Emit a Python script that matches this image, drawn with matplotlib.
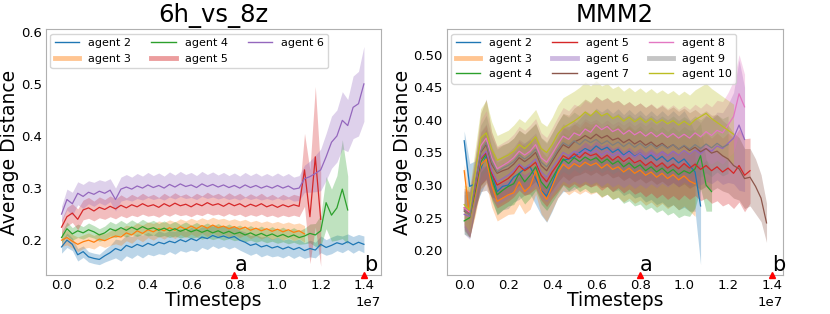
import numpy as np
import matplotlib
matplotlib.use("Agg")
import matplotlib.pyplot as plt
from matplotlib.lines import Line2D

# ---------------- 6h_vs_8z ----------------
t_left = np.arange(57) * 0.025e7

mean_l2 = [0.187, 0.200, 0.192, 0.172, 0.178, 0.168, 0.165, 0.163, 0.170, 0.176,
           0.184, 0.180, 0.190, 0.186, 0.192, 0.188, 0.194, 0.190, 0.196, 0.193,
           0.198, 0.195, 0.201, 0.197, 0.203, 0.199, 0.206, 0.203, 0.209, 0.205,
           0.208, 0.204, 0.207, 0.200, 0.196, 0.190, 0.193, 0.187, 0.190, 0.185,
           0.188, 0.183, 0.187, 0.182, 0.186, 0.180, 0.184, 0.181, 0.192, 0.186,
           0.190, 0.195, 0.192, 0.197, 0.191, 0.196, 0.192]
std_l2 = [0.012, 0.014, 0.012, 0.012, 0.011, 0.010, 0.010, 0.010, 0.012, 0.014,
          0.018, 0.020, 0.020, 0.021, 0.020, 0.022, 0.021, 0.020, 0.022, 0.021,
          0.020, 0.022, 0.021, 0.020, 0.022, 0.021, 0.020, 0.021, 0.020, 0.021,
          0.020, 0.021, 0.020, 0.019, 0.020, 0.019, 0.018, 0.019, 0.018, 0.017,
          0.018, 0.017, 0.016, 0.017, 0.016, 0.015, 0.016, 0.015, 0.016, 0.015,
          0.016, 0.015, 0.016, 0.015, 0.016, 0.015, 0.016]

mean_l3 = [0.200, 0.205, 0.198, 0.192, 0.197, 0.200, 0.196, 0.202, 0.199, 0.204,
           0.208, 0.206, 0.214, 0.210, 0.218, 0.213, 0.220, 0.216, 0.222, 0.218,
           0.224, 0.219, 0.226, 0.221, 0.227, 0.222, 0.228, 0.223, 0.229, 0.224,
           0.227, 0.222, 0.226, 0.221, 0.225, 0.219, 0.223, 0.218, 0.222, 0.217,
           0.221, 0.216, 0.220, 0.215, 0.218, 0.212]
std_l3 = [0.012, 0.014, 0.013, 0.014, 0.013, 0.014, 0.013, 0.012, 0.013, 0.014,
          0.015, 0.016, 0.015, 0.016, 0.015, 0.016, 0.015, 0.016, 0.015, 0.016,
          0.015, 0.016, 0.015, 0.016, 0.015, 0.016, 0.015, 0.016, 0.015, 0.016,
          0.015, 0.016, 0.015, 0.016, 0.015, 0.016, 0.015, 0.016, 0.015, 0.016,
          0.015, 0.016, 0.015, 0.016, 0.015, 0.016]

mean_l4 = [0.205, 0.222, 0.212, 0.218, 0.214, 0.220, 0.216, 0.210, 0.214, 0.222,
           0.218, 0.224, 0.219, 0.225, 0.220, 0.226, 0.221, 0.224, 0.219, 0.223,
           0.218, 0.222, 0.217, 0.221, 0.216, 0.220, 0.215, 0.219, 0.214, 0.218,
           0.213, 0.217, 0.212, 0.215, 0.210, 0.214, 0.209, 0.213, 0.208, 0.212,
           0.207, 0.211, 0.206, 0.210, 0.205, 0.208, 0.213, 0.210, 0.218, 0.272,
           0.248, 0.262, 0.298, 0.258]
std_l4 = [0.010, 0.013, 0.012, 0.013, 0.012, 0.013, 0.012, 0.012, 0.013, 0.014,
          0.013, 0.014, 0.013, 0.014, 0.013, 0.014, 0.013, 0.014, 0.013, 0.014,
          0.013, 0.014, 0.013, 0.014, 0.013, 0.014, 0.013, 0.014, 0.013, 0.014,
          0.013, 0.014, 0.013, 0.014, 0.013, 0.014, 0.013, 0.014, 0.013, 0.014,
          0.013, 0.014, 0.013, 0.014, 0.013, 0.015, 0.018, 0.022, 0.030, 0.050,
          0.050, 0.062, 0.095, 0.065]

mean_l5 = [0.225, 0.245, 0.252, 0.240, 0.258, 0.262, 0.256, 0.263, 0.259, 0.265,
           0.260, 0.267, 0.262, 0.268, 0.264, 0.270, 0.265, 0.268, 0.263, 0.270,
           0.265, 0.271, 0.266, 0.269, 0.264, 0.270, 0.266, 0.272, 0.267, 0.270,
           0.265, 0.271, 0.266, 0.270, 0.264, 0.269, 0.265, 0.270, 0.264, 0.268,
           0.263, 0.268, 0.264, 0.268, 0.265, 0.335, 0.245, 0.360, 0.240]
std_l5 = [0.014, 0.018, 0.018, 0.020, 0.019, 0.020, 0.019, 0.020, 0.019, 0.020,
          0.019, 0.020, 0.019, 0.020, 0.019, 0.020, 0.019, 0.020, 0.019, 0.020,
          0.019, 0.020, 0.019, 0.020, 0.019, 0.020, 0.019, 0.020, 0.019, 0.020,
          0.019, 0.020, 0.019, 0.020, 0.019, 0.020, 0.019, 0.020, 0.019, 0.020,
          0.019, 0.020, 0.019, 0.020, 0.020, 0.070, 0.090, 0.135, 0.090]

mean_l6 = [0.250, 0.278, 0.270, 0.290, 0.284, 0.292, 0.288, 0.294, 0.290, 0.296,
           0.278, 0.298, 0.302, 0.298, 0.304, 0.300, 0.306, 0.301, 0.305, 0.300,
           0.307, 0.302, 0.308, 0.303, 0.306, 0.301, 0.308, 0.303, 0.307, 0.302,
           0.306, 0.301, 0.305, 0.300, 0.306, 0.301, 0.305, 0.300, 0.304, 0.300,
           0.305, 0.300, 0.304, 0.298, 0.300, 0.318, 0.322, 0.328, 0.335, 0.360,
           0.388, 0.400, 0.430, 0.420, 0.455, 0.462, 0.500]
std_l6 = [0.015, 0.020, 0.022, 0.022, 0.023, 0.022, 0.023, 0.022, 0.023, 0.022,
          0.022, 0.023, 0.024, 0.023, 0.024, 0.023, 0.024, 0.023, 0.024, 0.023,
          0.024, 0.023, 0.024, 0.023, 0.024, 0.023, 0.024, 0.023, 0.024, 0.023,
          0.024, 0.023, 0.024, 0.023, 0.024, 0.023, 0.024, 0.023, 0.024, 0.023,
          0.024, 0.023, 0.024, 0.023, 0.024, 0.026, 0.030, 0.035, 0.040, 0.045,
          0.050, 0.050, 0.055, 0.050, 0.060, 0.062, 0.072]

# ---------------- MMM2 ----------------
t_right = np.arange(57) * 0.025e7

mean_r2 = [0.368, 0.298, 0.302, 0.325, 0.345, 0.318, 0.290, 0.298, 0.300, 0.312,
           0.318, 0.325, 0.328, 0.310, 0.292, 0.283, 0.302, 0.325, 0.338, 0.340,
           0.343, 0.350, 0.356, 0.352, 0.360, 0.354, 0.358, 0.350, 0.355, 0.346,
           0.352, 0.344, 0.349, 0.340, 0.346, 0.338, 0.344, 0.336, 0.342, 0.334,
           0.340, 0.330, 0.320, 0.268]
std_r2 = [0.015, 0.035, 0.035, 0.038, 0.040, 0.038, 0.036, 0.036, 0.036, 0.038,
          0.040, 0.040, 0.042, 0.040, 0.038, 0.040, 0.042, 0.045, 0.048, 0.050,
          0.050, 0.052, 0.055, 0.055, 0.058, 0.058, 0.060, 0.060, 0.062, 0.062,
          0.064, 0.064, 0.066, 0.066, 0.068, 0.068, 0.070, 0.070, 0.072, 0.072,
          0.074, 0.070, 0.060, 0.090]

mean_r3 = [0.322, 0.250, 0.285, 0.330, 0.340, 0.300, 0.275, 0.280, 0.285, 0.288,
           0.305, 0.290, 0.298, 0.322, 0.290, 0.278, 0.298, 0.318, 0.332, 0.325,
           0.333, 0.328, 0.335, 0.330, 0.334, 0.326, 0.332, 0.324, 0.328, 0.320,
           0.326, 0.318, 0.323, 0.315, 0.320, 0.312, 0.318, 0.310, 0.316, 0.308,
           0.314, 0.306, 0.302]
std_r3 = [0.010, 0.030, 0.032, 0.036, 0.038, 0.034, 0.030, 0.030, 0.030, 0.032,
          0.034, 0.034, 0.035, 0.036, 0.034, 0.034, 0.036, 0.038, 0.040, 0.040,
          0.042, 0.042, 0.044, 0.044, 0.045, 0.045, 0.046, 0.046, 0.046, 0.046,
          0.046, 0.046, 0.046, 0.046, 0.046, 0.046, 0.046, 0.046, 0.046, 0.046,
          0.046, 0.046, 0.050]

mean_r4 = [0.245, 0.250, 0.290, 0.335, 0.348, 0.310, 0.285, 0.292, 0.298, 0.302,
           0.318, 0.305, 0.315, 0.328, 0.305, 0.295, 0.310, 0.325, 0.340, 0.333,
           0.342, 0.336, 0.343, 0.338, 0.342, 0.334, 0.340, 0.332, 0.337, 0.328,
           0.334, 0.326, 0.331, 0.322, 0.328, 0.320, 0.326, 0.318, 0.324, 0.316,
           0.322, 0.318, 0.325, 0.345, 0.300, 0.290]
std_r4 = [0.020, 0.030, 0.032, 0.036, 0.038, 0.034, 0.030, 0.030, 0.030, 0.032,
          0.034, 0.034, 0.035, 0.036, 0.034, 0.034, 0.036, 0.038, 0.040, 0.042,
          0.044, 0.046, 0.048, 0.050, 0.052, 0.052, 0.054, 0.054, 0.056, 0.056,
          0.058, 0.058, 0.060, 0.060, 0.062, 0.062, 0.064, 0.064, 0.066, 0.066,
          0.068, 0.066, 0.060, 0.050, 0.040, 0.030]

mean_r5 = [0.265, 0.255, 0.295, 0.340, 0.350, 0.318, 0.300, 0.305, 0.310, 0.318,
           0.330, 0.322, 0.328, 0.335, 0.315, 0.305, 0.320, 0.332, 0.345, 0.340,
           0.348, 0.342, 0.350, 0.345, 0.348, 0.340, 0.346, 0.338, 0.344, 0.336,
           0.342, 0.334, 0.338, 0.330, 0.336, 0.328, 0.334, 0.326, 0.332, 0.325,
           0.333, 0.326, 0.332, 0.324, 0.330, 0.322, 0.328, 0.320, 0.326, 0.318,
           0.330, 0.315, 0.322]
std_r5 = [0.030, 0.035, 0.036, 0.040, 0.042, 0.038, 0.035, 0.035, 0.035, 0.036,
          0.038, 0.038, 0.040, 0.040, 0.038, 0.038, 0.040, 0.042, 0.044, 0.044,
          0.046, 0.046, 0.048, 0.048, 0.048, 0.048, 0.048, 0.048, 0.048, 0.048,
          0.048, 0.048, 0.048, 0.048, 0.048, 0.048, 0.048, 0.048, 0.048, 0.048,
          0.048, 0.048, 0.048, 0.048, 0.050, 0.050, 0.052, 0.052, 0.054, 0.054,
          0.056, 0.056, 0.050]

mean_r6 = [0.255, 0.252, 0.298, 0.342, 0.352, 0.322, 0.305, 0.310, 0.315, 0.322,
           0.332, 0.326, 0.332, 0.340, 0.320, 0.312, 0.326, 0.338, 0.350, 0.345,
           0.352, 0.347, 0.354, 0.349, 0.353, 0.346, 0.352, 0.345, 0.350, 0.344,
           0.350, 0.343, 0.349, 0.343, 0.350, 0.344, 0.351, 0.345, 0.352, 0.346,
           0.353, 0.347, 0.354, 0.348, 0.356, 0.352, 0.360, 0.356, 0.364, 0.372,
           0.392, 0.370]
std_r6 = [0.030, 0.035, 0.036, 0.040, 0.042, 0.038, 0.035, 0.035, 0.035, 0.036,
          0.038, 0.038, 0.040, 0.040, 0.038, 0.038, 0.040, 0.042, 0.044, 0.044,
          0.046, 0.046, 0.048, 0.048, 0.048, 0.048, 0.048, 0.048, 0.048, 0.048,
          0.048, 0.048, 0.048, 0.048, 0.048, 0.048, 0.048, 0.048, 0.048, 0.048,
          0.048, 0.048, 0.048, 0.048, 0.050, 0.050, 0.052, 0.055, 0.060, 0.070,
          0.100, 0.080]

mean_r7 = [0.260, 0.255, 0.302, 0.350, 0.362, 0.332, 0.318, 0.322, 0.325, 0.332,
           0.342, 0.336, 0.342, 0.350, 0.330, 0.322, 0.336, 0.350, 0.362, 0.357,
           0.366, 0.370, 0.376, 0.371, 0.378, 0.372, 0.376, 0.369, 0.372, 0.365,
           0.370, 0.363, 0.368, 0.361, 0.366, 0.359, 0.364, 0.357, 0.362, 0.355,
           0.360, 0.353, 0.358, 0.351, 0.356, 0.349, 0.352, 0.345, 0.340, 0.330,
           0.325, 0.310, 0.312, 0.298, 0.280, 0.242]
std_r7 = [0.030, 0.035, 0.040, 0.060, 0.070, 0.050, 0.040, 0.040, 0.040, 0.040,
          0.042, 0.042, 0.044, 0.044, 0.042, 0.042, 0.044, 0.046, 0.048, 0.050,
          0.052, 0.054, 0.056, 0.056, 0.058, 0.058, 0.058, 0.058, 0.058, 0.058,
          0.058, 0.058, 0.058, 0.058, 0.058, 0.058, 0.058, 0.058, 0.058, 0.058,
          0.058, 0.058, 0.058, 0.058, 0.058, 0.058, 0.056, 0.054, 0.052, 0.050,
          0.048, 0.046, 0.044, 0.042, 0.036, 0.030]

mean_r8 = [0.265, 0.258, 0.310, 0.360, 0.372, 0.342, 0.325, 0.330, 0.335, 0.342,
           0.352, 0.346, 0.352, 0.362, 0.342, 0.335, 0.348, 0.362, 0.375, 0.370,
           0.380, 0.376, 0.386, 0.381, 0.392, 0.385, 0.390, 0.382, 0.386, 0.378,
           0.384, 0.377, 0.382, 0.375, 0.381, 0.374, 0.380, 0.373, 0.379, 0.372,
           0.378, 0.372, 0.380, 0.374, 0.382, 0.376, 0.384, 0.380, 0.392, 0.405,
           0.440, 0.420]
std_r8 = [0.030, 0.035, 0.036, 0.040, 0.042, 0.038, 0.035, 0.035, 0.035, 0.036,
          0.038, 0.038, 0.040, 0.040, 0.038, 0.038, 0.040, 0.042, 0.044, 0.044,
          0.044, 0.044, 0.044, 0.044, 0.044, 0.044, 0.044, 0.044, 0.044, 0.044,
          0.044, 0.044, 0.044, 0.044, 0.044, 0.044, 0.044, 0.044, 0.044, 0.044,
          0.044, 0.044, 0.044, 0.044, 0.044, 0.044, 0.046, 0.048, 0.050, 0.055,
          0.060, 0.050]

mean_r9 = [0.262, 0.254, 0.305, 0.352, 0.365, 0.336, 0.320, 0.326, 0.330, 0.336,
           0.346, 0.340, 0.346, 0.355, 0.335, 0.328, 0.340, 0.354, 0.365, 0.360,
           0.368, 0.362, 0.370, 0.365, 0.370, 0.363, 0.368, 0.361, 0.366, 0.359,
           0.365, 0.358, 0.364, 0.357, 0.363, 0.356, 0.362, 0.356, 0.362, 0.355,
           0.361, 0.355, 0.362, 0.356, 0.363, 0.357, 0.364, 0.358, 0.362]
std_r9 = [0.030, 0.035, 0.036, 0.040, 0.042, 0.038, 0.035, 0.035, 0.035, 0.036,
          0.038, 0.038, 0.040, 0.040, 0.038, 0.038, 0.040, 0.042, 0.044, 0.044,
          0.044, 0.044, 0.044, 0.044, 0.044, 0.044, 0.044, 0.044, 0.044, 0.044,
          0.044, 0.044, 0.044, 0.044, 0.044, 0.044, 0.044, 0.044, 0.044, 0.044,
          0.044, 0.044, 0.044, 0.044, 0.044, 0.044, 0.044, 0.044, 0.044]

mean_r10 = [0.270, 0.262, 0.318, 0.372, 0.380, 0.355, 0.338, 0.342, 0.346, 0.352,
            0.362, 0.356, 0.364, 0.374, 0.356, 0.350, 0.362, 0.378, 0.388, 0.393,
            0.398, 0.404, 0.412, 0.406, 0.414, 0.406, 0.410, 0.402, 0.406, 0.398,
            0.404, 0.397, 0.403, 0.396, 0.402, 0.395, 0.400, 0.394, 0.399, 0.392,
            0.398, 0.392, 0.400, 0.405, 0.410, 0.402, 0.396, 0.390, 0.384, 0.378]
std_r10 = [0.030, 0.035, 0.038, 0.045, 0.050, 0.042, 0.038, 0.038, 0.038, 0.040,
           0.040, 0.040, 0.042, 0.042, 0.040, 0.040, 0.042, 0.044, 0.046, 0.046,
           0.046, 0.046, 0.046, 0.046, 0.046, 0.046, 0.046, 0.046, 0.046, 0.046,
           0.046, 0.046, 0.046, 0.046, 0.046, 0.046, 0.046, 0.046, 0.046, 0.046,
           0.046, 0.046, 0.046, 0.046, 0.046, 0.046, 0.046, 0.046, 0.046, 0.046]

left_series = [("agent 2", mean_l2, std_l2), ("agent 3", mean_l3, std_l3),
               ("agent 4", mean_l4, std_l4), ("agent 5", mean_l5, std_l5),
               ("agent 6", mean_l6, std_l6)]
right_series = [("agent 2", mean_r2, std_r2), ("agent 3", mean_r3, std_r3),
                ("agent 4", mean_r4, std_r4), ("agent 5", mean_r5, std_r5),
                ("agent 6", mean_r6, std_r6), ("agent 7", mean_r7, std_r7),
                ("agent 8", mean_r8, std_r8), ("agent 9", mean_r9, std_r9),
                ("agent 10", mean_r10, std_r10)]

# legend entries drawn as thick faded bars in the original
thick_left = ["agent 3", "agent 5"]
thick_right = ["agent 3", "agent 6", "agent 9"]

xticks = [0.0, 0.2e7, 0.4e7, 0.6e7, 0.8e7, 1.0e7, 1.2e7, 1.4e7]
marks_x = [0.8e7, 1.4e7]
marks_txt = ["a", "b"]

colors = plt.rcParams["axes.prop_cycle"].by_key()["color"]

fig = plt.figure(figsize=(8.3, 3.14), dpi=100)
ax1 = fig.add_axes([0.0554, 0.124, 0.4036, 0.783])
ax2 = fig.add_axes([0.5386, 0.124, 0.4048, 0.783])


def draw(ax, t, series, thick, title, ylim, xlim):
    handles = []
    for i, (name, m, s) in enumerate(series):
        m = np.array(m)
        s = np.array(s)
        x = t[:len(m)]
        c = colors[i]
        ax.fill_between(x, m - s, m + s, color=c, alpha=0.3, lw=0)
        ax.plot(x, m, color=c, lw=0.9)
        if name in thick:
            handles.append(Line2D([], [], color=c, lw=3.5, alpha=0.45, label=name))
        else:
            handles.append(Line2D([], [], color=c, lw=1.0, label=name))
    ax.set_xlim(*xlim)
    ax.set_ylim(*ylim)
    ax.set_xticks(xticks)
    ax.set_title(title, fontsize=17.5, pad=5)
    ax.set_xlabel("Timesteps", fontsize=13.5, labelpad=-1)
    ax.set_ylabel("Average Distance", fontsize=13.5, labelpad=1)
    ax.tick_params(labelsize=9.5, length=0, pad=3)
    ax.xaxis.get_offset_text().set_fontsize(9.5)
    for sp in ax.spines.values():
        sp.set_color("#b0b0b0")
    for xm, tx in zip(marks_x, marks_txt):
        ax.plot([xm], [ylim[0]], marker="^", color="red", ms=4, clip_on=False, zorder=5)
        ax.text(xm, ylim[0], tx, fontsize=15, ha="left", va="bottom")
    ax.legend(handles=handles, ncol=3, loc="upper left", fontsize=8,
              borderaxespad=0.4, handlelength=2.2, columnspacing=1.8)


draw(ax1, t_left, left_series, thick_left, "6h_vs_8z", (0.133, 0.605), (-0.072e7, 1.479e7))
draw(ax2, t_right, right_series, thick_right, "MMM2", (0.162, 0.539), (-0.078e7, 1.45e7))
ax2.set_yticks([0.20, 0.25, 0.30, 0.35, 0.40, 0.45, 0.50])

fig.savefig("out.png", dpi=100)
